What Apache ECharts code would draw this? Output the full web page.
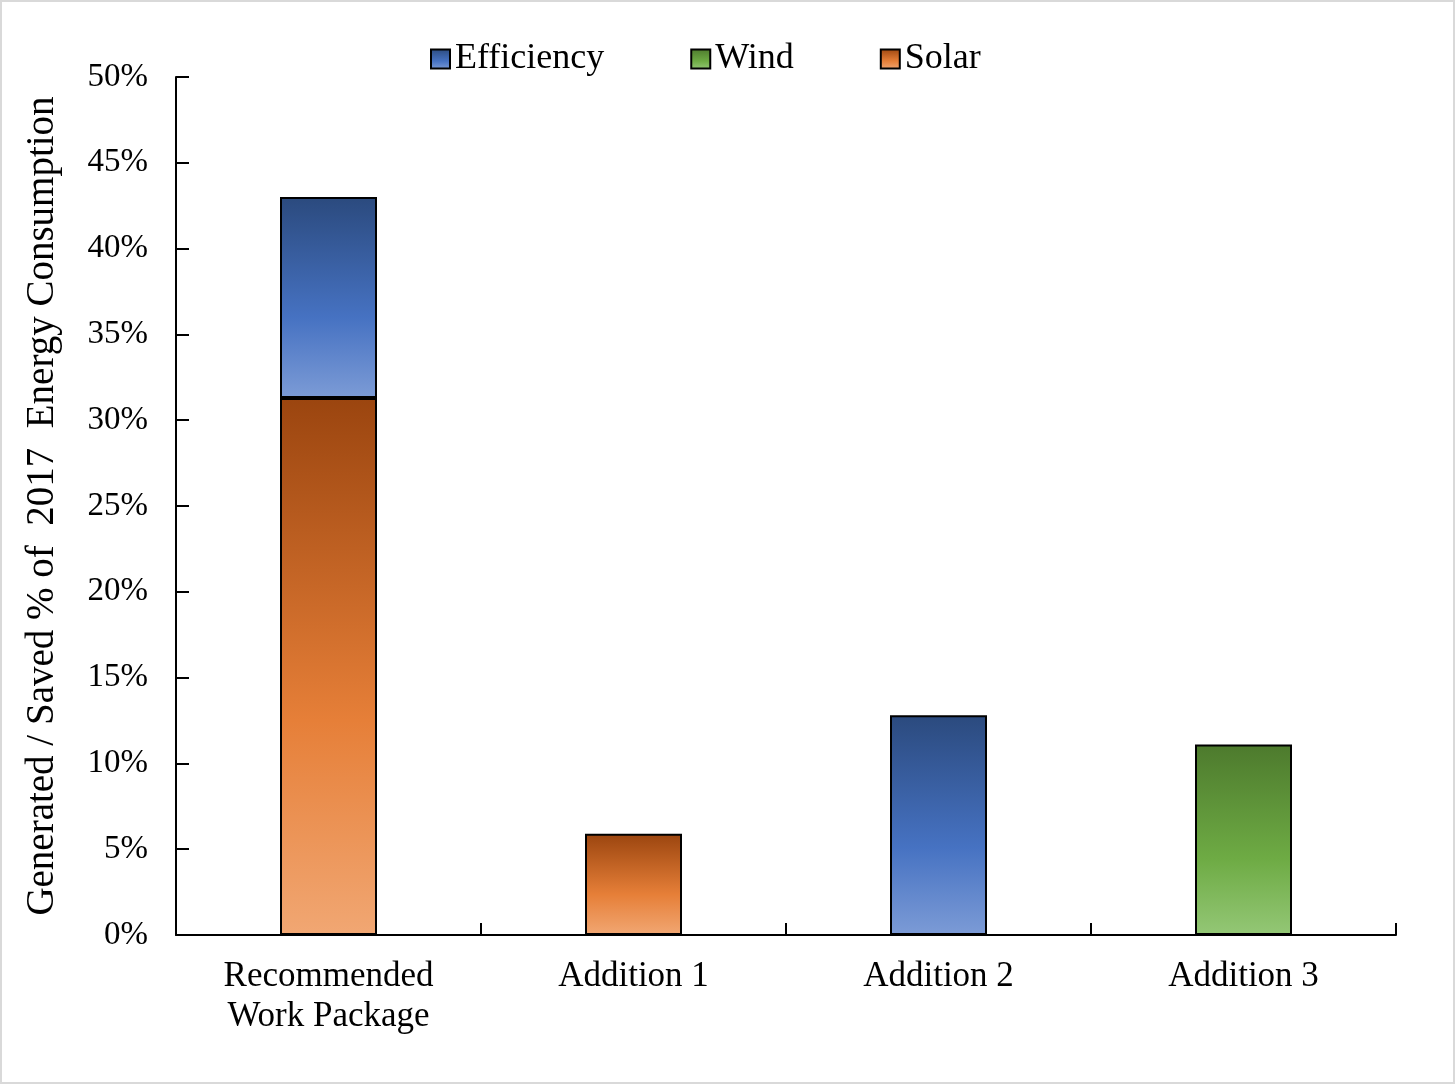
<!DOCTYPE html>
<html>
<head>
<meta charset="utf-8">
<script src="https://cdn.jsdelivr.net/npm/echarts@6/dist/echarts.min.js"></script>
<style>
html, body { margin: 0; padding: 0; background: #fff; }
#main {
    width: 1451px;
    height: 1080px;
    border: 2px solid #d9d9d9;
}
</style>
</head>
<body>
<div id="main"></div>
<script>
// categories and values (percent of 2017 consumption)
const categories = ['Recommended\nWork Package', 'Addition 1', 'Addition 2', 'Addition 3']
const efficiency = [11.7, null, 12.8, null]
const wind = [null, null, null, 11.1]
const solar = [31.3, 5.9, null, null]
const yTicks = [0, 5, 10, 15, 20, 25, 30, 35, 40, 45, 50]

const serif = '"Liberation Serif", "DejaVu Serif", serif'

function grad(top, mid, bottom) {
    return new echarts.graphic.LinearGradient(0, 0, 0, 1, [
        { offset: 0, color: top },
        { offset: 0.6, color: mid },
        { offset: 1, color: bottom }
    ])
}

const colEff = grad('#2b4a7e', '#4672c2', '#7c9bd6')
const colWind = grad('#4d7a2d', '#6eab44', '#94c776')
const colSolar = grad('#9b450f', '#e67f38', '#f1a773')

const barStyle = { borderColor: '#000', borderWidth: 2 }

let option = {
    animation: false,
    textStyle: { fontFamily: serif, color: '#000' },
    legend: {
        top: 34,
        left: 423,
        itemGap: 86,
        itemWidth: 19,
        itemHeight: 19,
        icon: 'rect',
        data: ['Efficiency', 'Wind', 'Solar'],
        itemStyle: { borderColor: '#000', borderWidth: 2 },
        textStyle: { fontFamily: serif, fontSize: 36, color: '#000' }
    },
    grid: {
        left: 174,
        right: 57,
        top: 75,
        bottom: 147
    },
    xAxis: [
        {
            type: 'category',
            data: categories,
            axisLine: { lineStyle: { color: '#000', width: 2 } },
            axisTick: { show: true, length: -12, lineStyle: { color: '#000', width: 2 } },
            axisLabel: {
                interval: 0,
                margin: 22,
                fontFamily: serif,
                fontSize: 35,
                lineHeight: 40,
                color: '#000'
            }
        }
    ],
    yAxis: [
        {
            type: 'value',
            min: 0,
            max: 50,
            interval: 5,
            name: 'Generated / Saved % of  2017  Energy Consumption',
            nameLocation: 'middle',
            nameGap: 114,
            nameRotate: 90,
            nameTextStyle: { fontFamily: serif, fontSize: 39, color: '#000' },
            splitLine: { show: false },
            axisLine: { show: true, lineStyle: { color: '#000', width: 2 } },
            axisTick: { show: true, length: -13, lineStyle: { color: '#000', width: 2 } },
            axisLabel: {
                margin: 28,
                fontFamily: serif,
                fontSize: 33,
                color: '#000',
                formatter: v => yTicks.indexOf(v) >= 0 ? v + '%' : ''
            }
        }
    ],
    series: [
        {
            name: 'Solar',
            type: 'bar',
            stack: 'total',
            barWidth: 97,
            data: solar,
            itemStyle: Object.assign({ color: colSolar }, barStyle)
        },
        {
            name: 'Wind',
            type: 'bar',
            stack: 'total',
            barWidth: 97,
            data: wind,
            itemStyle: Object.assign({ color: colWind }, barStyle)
        },
        {
            name: 'Efficiency',
            type: 'bar',
            stack: 'total',
            barWidth: 97,
            data: efficiency,
            itemStyle: Object.assign({ color: colEff }, barStyle)
        }
    ]
};

var myChart = echarts.init(document.getElementById('main'));
option && myChart.setOption(option);
</script>
</body>
</html>
